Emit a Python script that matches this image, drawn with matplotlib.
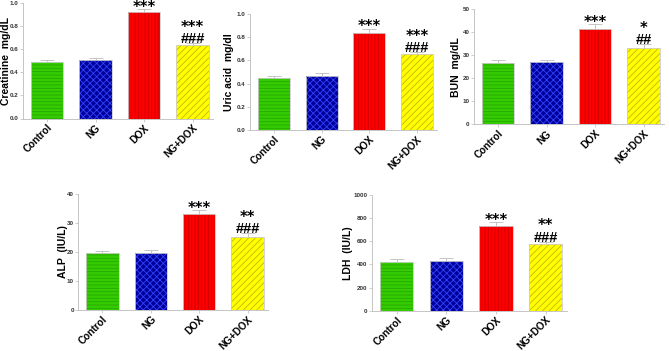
import matplotlib
matplotlib.use("Agg")
import matplotlib.pyplot as plt
import numpy as np

plt.rcParams['font.family'] = ['Liberation Sans', 'DejaVu Sans']
plt.rcParams['hatch.linewidth'] = 0.6

groups = ["Control", "NG", "DOX", "NG+DOX"]

creatinine = [0.49, 0.505, 0.92, 0.64]
creatinine_err = [0.015, 0.015, 0.03, 0.01]
uric = [0.445, 0.463, 0.839, 0.652]
uric_err = [0.02, 0.025, 0.035, 0.02]
bun = [26.4, 27.2, 41.3, 33.1]
bun_err = [1.3, 0.8, 2.0, 1.6]
alp = [19.5, 19.8, 33.1, 25.3]
alp_err = [0.8, 0.8, 1.3, 1.1]
ldh = [424, 429, 735, 576]
ldh_err = [23, 23, 29, 18]

sig_dox = ["***", "***", "***", "***", "***"]
sig_ngdox = [("***", "###"), ("***", "###"), ("*", "##"), ("**", "###"), ("**", "###")]

ylabels = ["Creatinine  mg/dL", "Uric acid  mg/dl", "BUN  mg/dL", "ALP  (IU/L)", "LDH  (IU/L)"]
yticks = [np.arange(0, 1.01, 0.2), np.arange(0, 1.01, 0.2), np.arange(0, 51, 10),
          np.arange(0, 41, 10), np.arange(0, 1001, 200)]
ytickfmt = ["{:.1f}", "{:.1f}", "{:.0f}", "{:.0f}", "{:.0f}"]

W, H = 669, 351
# axes boxes in pixels: left, right, top, bottom
boxes = [(23, 213, 3, 118.5), (250, 437, 14, 130), (474, 664, 9, 124.3),
         (78.3, 268, 194, 310), (371.7, 566.7, 195, 310.7)]
label_off = [12, 16, 13, 10, 19]

colors = ["#33cc00", "#000099", "#ff0000", "#ffff00"]
hatches = ["-----", "xxxxx", "|||||", "/////"]
hatchcols = ["#2aa800", "#3344ff", "#cc0000", "#c8b400"]

fig = plt.figure(figsize=(W / 100, H / 100), dpi=100)

datasets = [(creatinine, creatinine_err), (uric, uric_err), (bun, bun_err),
            (alp, alp_err), (ldh, ldh_err)]

for i, ((vals, errs), box) in enumerate(zip(datasets, boxes)):
    l, r, t, b = box
    ax = fig.add_axes([l / W, 1 - b / H, (r - l) / W, (b - t) / H])
    x = np.arange(len(groups))
    for j in range(4):
        ax.bar(x[j], vals[j], width=0.67, color=colors[j], edgecolor=hatchcols[j],
               hatch=hatches[j], linewidth=0, zorder=2)
        ax.bar(x[j], vals[j], width=0.67, color='none', edgecolor='#cccccc',
               linewidth=0.6, zorder=3)
    ax.errorbar(x, vals, yerr=[np.zeros(4), errs], fmt='none', ecolor='#bbbbbb',
                elinewidth=0.6, capsize=5, capthick=0.6, zorder=1)
    yt = yticks[i]
    ax.set_ylim(0, yt[-1])
    ax.set_xlim(-0.5, 3.42)
    ax.set_yticks(yt)
    ax.set_yticklabels([ytickfmt[i].format(v) for v in yt], fontsize=4.5,
                       fontweight='bold', color='#333333')
    ax.set_xticks(x)
    ax.set_xticklabels(groups, rotation=45, ha='right', rotation_mode='anchor',
                       fontsize=7.2, fontweight='bold')
    ax.tick_params(axis='y', length=2, width=0.5, color='#bbbbbb', pad=1.2)
    ax.tick_params(axis='x', length=2, width=0.5, color='#bbbbbb', pad=1)
    for s in ['top', 'right']:
        ax.spines[s].set_visible(False)
    for s in ['left', 'bottom']:
        ax.spines[s].set_color('#bbbbbb')
        ax.spines[s].set_linewidth(0.6)
    ax.set_ylabel(ylabels[i], fontsize=7.5, fontweight='bold')
    ax.yaxis.set_label_coords(-label_off[i] / (r - l), 0.5)
    # significance marks
    top_dox = vals[2] + errs[2]
    ax.annotate(sig_dox[i], (2, top_dox), xytext=(0, -2.0), textcoords='offset points',
                ha='center', va='baseline', fontsize=10.5, fontweight='bold',
                family='DejaVu Sans', annotation_clip=False)
    top_nd = vals[3] + errs[3]
    s1, s2 = sig_ngdox[i]
    ax.annotate(s2, (3, top_nd), xytext=(0, 0.3), textcoords='offset points',
                ha='center', va='baseline', fontsize=10.5, fontweight='bold',
                annotation_clip=False)
    ax.annotate(s1, (3, top_nd), xytext=(0, 8.3), textcoords='offset points',
                ha='center', va='baseline', fontsize=10.5, fontweight='bold',
                family='DejaVu Sans', annotation_clip=False)

fig.savefig("out.png", dpi=100)
